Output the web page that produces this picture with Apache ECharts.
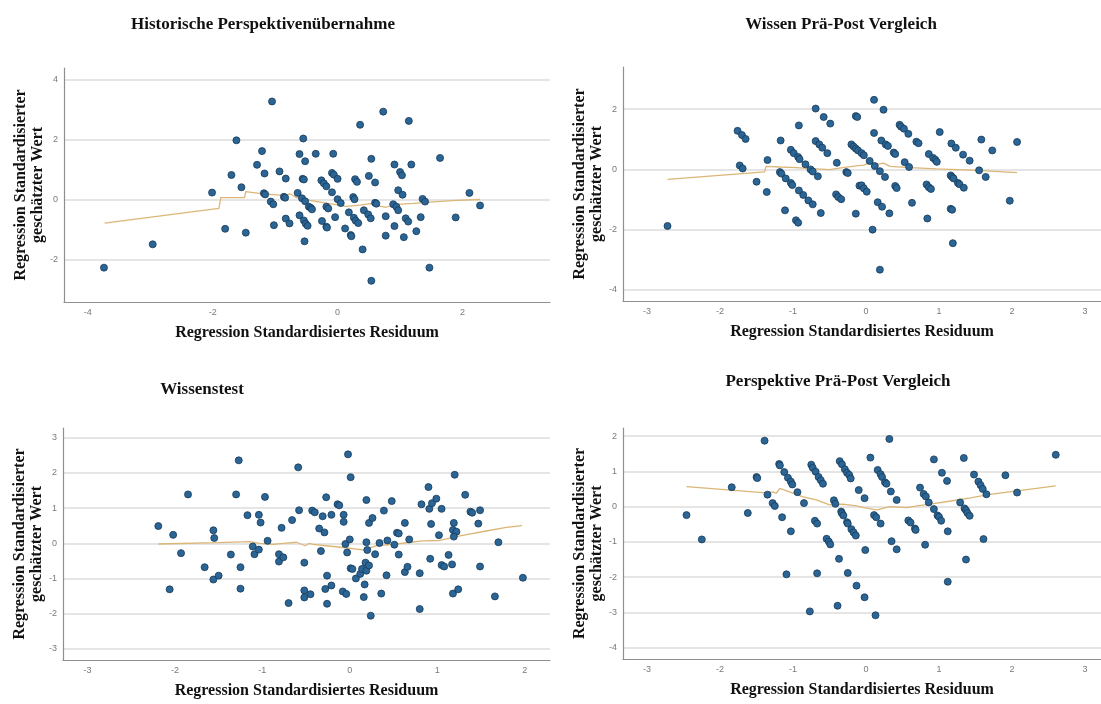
<!DOCTYPE html>
<html>
<head>
<meta charset="utf-8">
<title>Regression Standardisierter geschätzter Wert – Residuen</title>
<script src="https://cdn.jsdelivr.net/npm/echarts@6/dist/echarts.min.js"></script>
<style>
  html, body { margin: 0; padding: 0; background: #fff; }
  #chart { width: 1101px; height: 704px; }
</style>
</head>
<body>
<div id="chart"></div>
<script>
// Panel titles
const titles = [
  'Historische Perspektivenübernahme',
  'Wissen Prä-Post Vergleich',
  'Wissenstest',
  'Perspektive Prä-Post Vergleich'
];
const xName = 'Regression Standardisiertes Residuum';
const yName = 'Regression Standardisierter\ngeschätzter Wert';

// Tick labels per panel
const p1XTicks = [-4, -2, 0, 2];
const p1YTicks = [-2, 0, 2, 4];
const p2XTicks = [-3, -2, -1, 0, 1, 2, 3];
const p2YTicks = [-4, -2, 0, 2];
const p3XTicks = [-3, -2, -1, 0, 1, 2];
const p3YTicks = [-3, -2, -1, 0, 1, 2, 3];
const p4XTicks = [-3, -2, -1, 0, 1, 2, 3];
const p4YTicks = [-4, -3, -2, -1, 0, 1, 2];

// Historische Perspektivenübernahme: [residual, predicted]
const p1Points = [
  [-3.74,-2.28],[-2.96,-1.5],[-1.05,3.28],[-1.62,1.98],[-2.01,0.23],[-1.21,1.62],[-1.29,1.16],
  [-1.70,0.82],[-1.17,0.87],[-0.93,0.94],[-0.83,0.70],[-1.54,0.41],[-1.18,0.21],[-1.16,0.17],
  [-1.80,-0.98],[-1.47,-1.11],[-1.07,-0.07],[-1.03,-0.16],[-1.02,-0.86],[-0.86,0.09],[-0.84,0.06],
  [-0.83,-0.64],[-0.77,-0.80],[-0.61,1.52],[-0.52,1.28],[-0.55,2.04],[-0.56,0.69],[-0.54,0.67],
  [-0.64,0.22],[-0.57,0.04],[-0.52,-0.06],[-0.46,-0.24],[-0.61,-0.53],[-0.54,-0.70],[-0.51,-0.81],
  [-0.48,-0.88],[-0.53,-1.40],
  [0.73,2.94],[0.36,2.50],[1.14,2.63],[-0.35,1.53],[-0.07,1.53],[0.54,1.36],[1.64,1.39],[0.91,1.17],
  [1.18,1.17],[-0.09,0.89],[-0.06,0.83],[0.00,0.69],[0.50,0.79],[1.00,0.92],[1.03,0.81],[0.28,0.68],
  [0.31,0.59],[0.60,0.57],[-0.26,0.64],[-0.22,0.54],[-0.18,0.44],[-0.09,0.24],[0.97,0.31],[1.04,0.16],
  [2.11,0.22],[0.25,0.08],[0.27,0.01],[0.00,0.01],[0.05,-0.12],[0.60,-0.11],[0.62,-0.14],[0.89,-0.16],
  [0.94,-0.24],[0.97,-0.36],[1.36,0.02],[1.40,-0.07],[2.28,-0.20],[-0.43,-0.28],[-0.41,-0.33],
  [-0.18,-0.24],[-0.15,-0.30],[0.18,-0.43],[0.42,-0.36],[0.49,-0.50],[0.53,-0.63],[0.26,-0.61],
  [0.29,-0.71],[0.33,-0.79],[-0.04,-0.59],[-0.25,-0.72],[-0.18,-0.91],[-0.17,-0.94],[0.12,-0.97],
  [0.21,-1.19],[0.22,-1.23],[0.77,-0.56],[0.91,-0.89],[1.09,-0.63],[1.13,-0.74],[1.33,-0.59],
  [1.26,-1.06],[1.06,-1.26],[0.77,-1.21],[1.89,-0.60],[0.40,-1.67],[1.47,-2.28],[0.54,-2.72]
];
const p1Fit = [
  [-3.73,-0.79],[-1.90,-0.30],[-1.87,0.06],[-1.49,0.06],[-1.47,0.26],[-1.19,0.19],[-0.87,0.14],
  [-0.76,0.19],[-0.66,0.06],[-0.50,0.00],[-0.44,-0.03],[-0.18,-0.12],[0.14,-0.23],[0.36,-0.19],
  [0.52,-0.14],[0.68,-0.22],[0.78,-0.26],[0.89,-0.17],[1.21,-0.13],[1.53,-0.08],[1.90,-0.03],[2.28,0.00]
];

// Wissen Prä-Post Vergleich
const p2Points = [
  [-2.72,-1.88],[-1.76,1.28],[-1.70,1.14],[-1.65,1.01],[-1.73,0.13],[-1.69,0.03],[-1.50,-0.41],
  [-1.35,0.31],[-1.36,-0.75],[-1.17,0.96],[-1.18,-0.09],[-1.16,-0.14],[-1.10,-0.30],[-1.03,-0.45],
  [-1.01,-0.52],[-0.92,-0.70],[-0.86,-0.85],[-0.79,-1.03],[-0.73,-1.16],[-1.11,-1.36],[-0.96,-1.69],
  [-0.93,-1.77],[-1.03,0.65],[-0.99,0.54],[-0.93,0.41],[-0.91,0.34],[-0.92,1.46],[-0.83,0.17],
  [-0.76,0.00],[-0.73,-0.07],[-0.66,-0.23],[-0.69,2.02],[-0.58,1.74],[-0.49,1.52],[-0.69,0.94],
  [-0.64,0.83],[-0.60,0.72],[-0.53,0.54],[-0.40,0.22],[-0.62,-1.45],[-0.41,-0.83],[-0.38,-0.92],
  [-0.34,-0.99],[-0.27,-0.09],[-0.25,-0.12],[-0.20,0.83],[-0.17,0.76],[-0.14,1.77],[-0.12,1.74],
  [-0.14,0.69],[-0.11,0.63],[-0.14,-1.47],[-0.09,-0.54],[-0.06,0.54],[-0.03,0.47],
  [0.11,2.31],[0.24,1.98],[0.46,1.48],[0.48,1.42],[0.52,1.35],[0.58,1.18],[0.11,1.21],[1.01,1.24],
  [0.69,0.92],[0.72,0.87],[0.21,0.96],[0.27,0.83],[0.30,0.78],[0.05,0.28],[0.12,0.11],[0.19,-0.06],
  [0.26,-0.25],[0.38,0.56],[0.40,0.51],[0.53,0.24],[0.59,0.08],[0.86,0.51],[0.92,0.38],[0.95,0.32],
  [0.97,0.25],[1.17,0.86],[1.23,0.72],[1.33,0.49],[1.42,0.29],[1.58,0.99],[1.73,0.63],[2.07,0.91],
  [1.55,-0.03],[1.64,-0.25],[1.16,-0.20],[1.18,-0.25],[1.20,-0.30],[1.26,-0.45],[1.28,-0.49],
  [1.34,-0.61],[0.83,-0.50],[0.86,-0.59],[0.89,-0.65],[0.40,-0.55],[0.42,-0.62],[-0.06,-0.53],
  [-0.03,-0.63],[0.01,-0.74],[0.16,-1.09],[0.22,-1.24],[0.32,-1.46],[0.63,-1.11],[0.84,-1.63],
  [1.16,-1.31],[1.18,-1.34],[1.97,-1.04],[0.09,-2.00],[1.19,-2.45],[0.19,-3.33]
];
const p2Fit = [
  [-2.72,-0.33],[-1.39,-0.08],[-1.37,0.10],[-1.18,0.08],[-0.96,0.06],[-0.68,0.02],[-0.50,-0.01],
  [-0.32,0.06],[-0.13,0.12],[-0.03,0.14],[0.06,0.24],[0.15,0.17],[0.24,0.21],[0.33,0.10],
  [0.61,0.06],[0.97,0.02],[1.52,-0.03],[2.07,-0.11]
];

// Wissenstest
const p3Points = [
  [-2.19,0.49],[-2.02,0.24],[-1.93,-0.28],[-1.85,1.39],[-2.06,-1.31],[-1.66,-0.68],[-1.56,0.37],
  [-1.55,0.15],[-1.56,-1.03],[-1.50,-0.92],[-1.36,-0.32],[-1.30,1.39],[-1.27,2.36],[-1.25,-0.68],
  [-1.25,-1.29],[-1.17,0.80],[-1.11,-0.09],[-1.09,-0.31],[-1.04,0.81],[-1.04,-0.18],[-1.02,0.59],
  [-0.97,1.32],[-0.94,0.07],[-0.81,-0.31],[-0.81,-0.52],[-0.78,0.44],[-0.76,-0.40],[-0.70,-1.70],
  [-0.66,0.66],[-0.59,2.16],[-0.58,0.94],[-0.52,-0.55],[-0.52,-1.34],[-0.52,-1.54],[-0.45,-1.45],
  [-0.43,0.93],[-0.40,0.88],[-0.35,0.42],[-0.29,0.31],[-0.33,-0.22],[-0.31,0.77],[-0.27,1.31],
  [-0.21,0.81],[-0.26,-0.92],[-0.28,-1.30],[-0.26,-1.72],[-0.21,-1.20],[-0.14,1.11],[-0.12,1.08],
  [-0.07,0.81],[-0.07,0.61],[-0.05,-0.02],[-0.03,-0.26],[-0.08,-1.37],[-0.04,-1.44],[-0.02,2.53],
  [0.01,1.88],[0.00,0.11],[0.01,-0.71],[0.03,-0.73],[0.07,-1.00],[0.12,-0.87],[0.14,-0.73],
  [0.18,-0.55],[0.19,-0.78],[0.22,-0.63],[0.17,-1.17],[0.16,-1.53],[0.19,1.23],[0.19,0.03],
  [0.20,-0.19],[0.22,0.58],[0.26,0.72],[0.24,-2.06],[0.29,-0.31],[0.34,0.01],[0.36,-1.43],
  [0.39,0.93],[0.43,0.08],[0.42,-0.91],[0.48,1.20],[0.51,-0.04],[0.54,0.30],[0.56,0.28],
  [0.56,-0.32],[0.63,0.58],[0.63,-0.82],[0.66,-0.67],[0.68,0.11],[0.80,-0.85],[0.80,-1.87],
  [0.82,1.11],[0.90,1.60],[0.91,0.98],[0.93,0.55],[0.92,-0.44],[0.94,1.14],[0.99,1.27],[1.05,0.98],
  [1.02,0.23],[1.05,-0.62],[1.08,-0.66],[1.13,-0.33],[1.17,-0.60],[1.18,-1.43],[1.24,-1.31],
  [1.19,0.58],[1.18,0.38],[1.22,0.33],[1.19,0.19],[1.20,1.95],[1.32,1.38],[1.38,0.90],[1.40,0.87],
  [1.49,0.94],[1.47,0.56],[1.49,-0.66],[1.66,-1.51],[1.70,0.03],[1.98,-0.98]
];
const p3Fit = [
  [-2.19,-0.02],[-1.52,0.02],[-1.14,0.05],[-1.03,0.00],[-0.88,-0.03],[-0.76,0.00],[-0.61,0.03],
  [-0.51,-0.07],[-0.46,0.00],[-0.42,-0.03],[-0.27,-0.07],[-0.08,-0.12],[0.15,-0.19],[0.30,-0.07],
  [0.50,-0.03],[0.69,0.03],[0.84,0.07],[1.03,0.08],[1.26,0.21],[1.56,0.35],[1.79,0.45],[1.97,0.50]
];

// Perspektive Prä-Post Vergleich
const p4Points = [
  [-2.46,-0.24],[-2.25,-0.93],[-1.84,0.55],[-1.62,-0.18],[-1.50,0.84],[-1.49,0.81],[-1.39,1.87],
  [-1.35,0.34],[-1.28,0.10],[-1.25,0.02],[-1.19,1.21],[-1.18,1.17],[-1.12,0.98],[-1.07,0.82],
  [-1.03,0.71],[-1.01,0.63],[-1.15,-0.30],[-1.03,-0.70],[-1.09,-1.92],[-0.94,0.41],[-0.85,0.10],
  [-0.77,-2.97],[-0.75,1.19],[-0.73,1.10],[-0.69,0.99],[-0.65,0.84],[-0.62,0.75],[-0.59,0.65],
  [-0.70,-0.40],[-0.67,-0.48],[-0.67,-1.89],[-0.54,-0.91],[-0.51,-0.99],[-0.49,-1.07],[-0.44,0.18],
  [-0.42,0.08],[-0.39,-2.81],[-0.37,-1.48],[-0.36,1.29],[-0.33,1.20],[-0.29,1.06],[-0.26,0.96],
  [-0.23,0.90],[-0.21,0.80],[-0.34,-0.14],[-0.33,-0.19],[-0.31,-0.25],[-0.26,-0.44],[-0.25,-0.48],
  [-0.20,-0.64],[-0.17,-0.73],[-0.14,-0.82],[-0.25,-1.88],[-0.13,-2.24],[-0.10,0.47],
  [-0.02,0.24],[-0.01,-1.23],[-0.02,-2.57],[0.06,1.39],[0.13,-3.08],[0.32,1.92],[0.11,-0.24],
  [0.14,-0.30],[0.20,-0.48],[0.16,1.04],[0.20,0.92],[0.22,0.84],[0.26,0.69],[0.28,0.65],[0.34,0.43],
  [0.42,0.19],[0.35,-0.98],[0.42,-1.21],[0.58,-0.39],[0.61,-0.45],[0.67,-0.62],[0.68,-0.66],
  [0.74,0.54],[0.79,0.36],[0.82,0.29],[0.86,0.12],[0.81,-1.08],[0.93,1.34],[0.93,-0.07],[0.98,-0.25],
  [1.00,-0.29],[1.03,-0.40],[1.04,0.96],[1.11,0.73],[1.12,-0.70],[1.12,-2.13],[1.29,0.12],[1.34,1.38],
  [1.35,-0.05],[1.37,-1.50],[1.37,-0.10],[1.39,-0.18],[1.42,-0.26],[1.48,0.91],[1.54,0.71],
  [1.57,0.61],[1.60,0.50],[1.65,0.35],[1.61,-0.92],[1.91,0.89],[2.07,0.40],[2.60,1.47]
];
const p4Fit = [
  [-2.46,0.57],[-1.37,0.39],[-1.28,0.42],[-1.23,0.38],[-1.18,0.52],[-1.05,0.42],[-0.86,0.28],
  [-0.68,0.19],[-0.50,0.05],[-0.32,0.07],[-0.13,0.02],[-0.03,-0.03],[0.15,-0.09],[0.33,0.00],
  [0.56,-0.03],[0.70,0.02],[0.88,0.07],[1.16,0.16],[1.43,0.25],[1.70,0.35],[2.07,0.45],[2.60,0.59]
];

const SERIF = '"Liberation Serif", "Times New Roman", serif';
const SANS = '"Liberation Sans", Arial, sans-serif';

// Plot boxes and axis ranges for the 2x2 layout
const panels = [
  { grid: { left: 64,  top: 68,  width: 486, height: 234 }, x: [-4.38, 3.40], y: [-3.43, 4.40],
    xTicks: p1XTicks, yTicks: p1YTicks, points: p1Points, fit: p1Fit, title: [258, 11] },
  { grid: { left: 623, top: 67,  width: 478, height: 234 }, x: [-3.33, 3.22], y: [-4.37, 3.40],
    xTicks: p2XTicks, yTicks: p2YTicks, points: p2Points, fit: p2Fit, title: [836, 11] },
  { grid: { left: 63,  top: 428, width: 487, height: 232 }, x: [-3.28, 2.29], y: [-3.32, 3.28],
    xTicks: p3XTicks, yTicks: p3YTicks, points: p3Points, fit: p3Fit, title: [197, 376] },
  { grid: { left: 623, top: 428, width: 478, height: 231 }, x: [-3.33, 3.22], y: [-4.32, 2.23],
    xTicks: p4XTicks, yTicks: p4YTicks, points: p4Points, fit: p4Fit, title: [833, 368] }
];

// Axis lines sit on the plot edges, not at zero
const axisLine = { show: true, onZero: false, lineStyle: { color: '#8f8f8f', width: 1.2 } };
const tickLabel = { color: '#7a7a7a', fontSize: 9, fontFamily: SANS };

const option = {
  backgroundColor: '#ffffff',
  animation: false,
  title: panels.map((p, i) => ({
    text: titles[i],
    left: p.title[0],
    top: p.title[1],
    textAlign: 'center',
    textStyle: { fontFamily: SERIF, fontWeight: 'bold', fontSize: 17, color: '#111' }
  })),
  grid: panels.map(p => Object.assign({ containLabel: false }, p.grid)),
  xAxis: panels.map((p, i) => ({
    type: 'value', gridIndex: i, min: p.x[0], max: p.x[1],
    axisLine: axisLine,
    axisTick: { show: false, customValues: p.xTicks },
    axisLabel: Object.assign({ customValues: p.xTicks, margin: 6 }, tickLabel),
    splitLine: { show: false },
    name: xName, nameLocation: 'middle', nameGap: 23,
    nameTextStyle: { fontFamily: SERIF, fontWeight: 'bold', fontSize: 16, color: '#111' }
  })),
  yAxis: panels.map((p, i) => ({
    type: 'value', gridIndex: i, min: p.y[0], max: p.y[1],
    axisLine: axisLine,
    axisTick: { show: false, customValues: p.yTicks },
    axisLabel: Object.assign({ customValues: p.yTicks, margin: 6 }, tickLabel),
    splitLine: { show: true, lineStyle: { color: '#dcdcdc', width: 1.5 } },
    name: yName, nameLocation: 'middle', nameRotate: 90, nameGap: 18,
    nameTextStyle: { fontFamily: SERIF, fontWeight: 'bold', fontSize: 16, color: '#111', lineHeight: 17 }
  })),
  series: panels.flatMap((p, i) => [
    {
      type: 'scatter', xAxisIndex: i, yAxisIndex: i, data: p.points,
      symbolSize: 7,
      itemStyle: { color: '#2a6595', borderColor: '#163a58', borderWidth: 0.8, opacity: 1 },
      z: 3
    },
    {
      type: 'line', xAxisIndex: i, yAxisIndex: i, data: p.fit,
      showSymbol: false, symbol: 'none',
      lineStyle: { color: '#dbb676', width: 1.3 },
      z: 2
    }
  ])
};

const chart = echarts.init(document.getElementById('chart'), null, { renderer: 'canvas' });
chart.setOption(option);
</script>
</body>
</html>
